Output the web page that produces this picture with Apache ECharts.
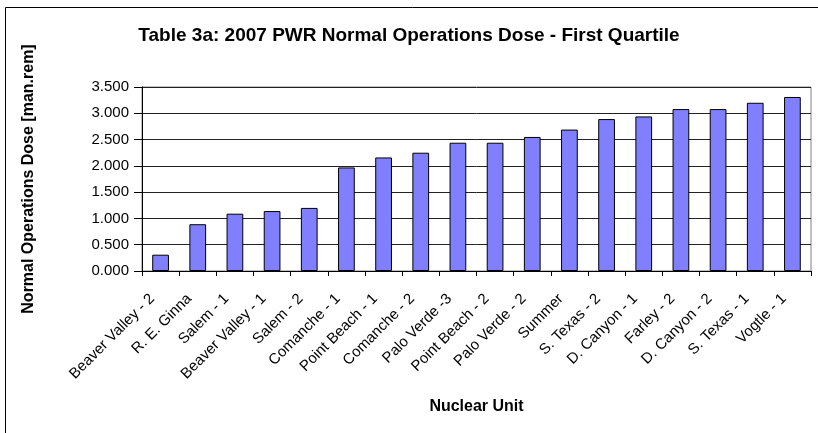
<!DOCTYPE html>
<html>
<head>
<meta charset="utf-8">
<script src="https://cdn.jsdelivr.net/npm/echarts@6/dist/echarts.min.js"></script>
<style>
  html, body { margin: 0; padding: 0; background: #fff; }
  #chart { width: 818px; height: 433px; }
</style>
</head>
<body>
<div id="chart"></div>
<script>
// nuclear units, in the order shown
const units = [
  "Beaver Valley - 2", "R. E. Ginna", "Salem - 1", "Beaver Valley - 1",
  "Salem - 2", "Comanche - 1", "Point Beach - 1", "Comanche - 2",
  "Palo Verde -3", "Point Beach - 2", "Palo Verde - 2", "Summer",
  "S. Texas - 2", "D. Canyon - 1", "Farley - 2", "D. Canyon - 2",
  "S. Texas - 1", "Vogtle - 1"
];
// normal operations dose [man.rem]
const dose = [
  0.31, 0.89, 1.09, 1.14, 1.20, 1.97, 2.16, 2.25, 2.44,
  2.44, 2.55, 2.69, 2.89, 2.94, 3.08, 3.08, 3.20, 3.31
];

const font = "'Liberation Sans', Arial, sans-serif";
const chart = echarts.init(document.getElementById("chart"));

const option = {
  backgroundColor: "#fff",
  animation: false,
  title: {
    text: "Table 3a: 2007 PWR Normal Operations Dose - First Quartile",
    left: "center",
    top: 21,
    textStyle: { fontFamily: font, fontSize: 19, fontWeight: "bold", color: "#000" }
  },
  graphic: [
    {
      // outer chart frame (only left and top edges are visible)
      type: "rect",
      shape: { x: 5.5, y: 7.5, width: 900, height: 600 },
      style: { fill: null, stroke: "#000", lineWidth: 1 },
      silent: true
    }
  ],
  grid: {
    left: 142,
    right: 7,
    top: 87,
    bottom: 162,
    show: true,
    borderColor: "#808080",
    borderWidth: 1
  },
  xAxis: {
    type: "category",
    data: units,
    name: "Nuclear Unit",
    nameLocation: "middle",
    nameGap: 128,
    nameTextStyle: { fontFamily: font, fontSize: 16, fontWeight: "bold", color: "#000" },
    axisLine: { lineStyle: { color: "#000", width: 1 } },
    axisTick: { show: true, length: 5, lineStyle: { color: "#000" } },
    axisLabel: {
      rotate: 45,
      interval: 0,
      margin: 17,
      padding: [0, 12, 0, 0],
      fontFamily: font,
      fontSize: 15,
      color: "#000"
    }
  },
  yAxis: {
    type: "value",
    min: 0,
    max: 3.5,
    interval: 0.5,
    name: "Normal Operations Dose [man.rem]",
    nameLocation: "middle",
    nameGap: 105,
    nameTextStyle: { fontFamily: font, fontSize: 16, fontWeight: "bold", color: "#000" },
    axisLine: { show: true, lineStyle: { color: "#000", width: 1 } },
    axisTick: { show: true, length: 8, lineStyle: { color: "#000" } },
    axisLabel: {
      fontFamily: font,
      fontSize: 15,
      color: "#000",
      margin: 13,
      formatter: v => v.toFixed(3)
    },
    splitLine: { lineStyle: { color: "#222", width: 1 } }
  },
  series: [
    {
      type: "bar",
      data: dose,
      barWidth: "45%",
      itemStyle: {
        color: "#8080FF",
        borderColor: "#000",
        borderWidth: 1
      }
    }
  ]
};
chart.setOption(option);
</script>
</body>
</html>
